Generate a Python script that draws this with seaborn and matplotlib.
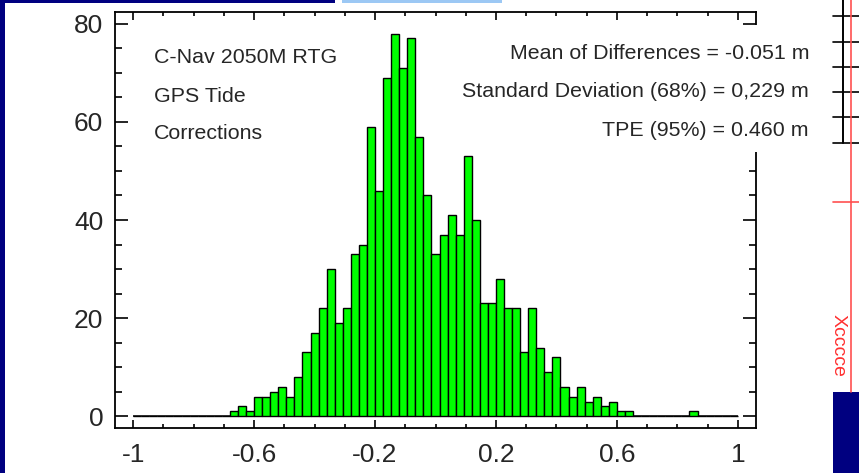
import numpy as np
import pandas as pd
import matplotlib
matplotlib.use("Agg")
import matplotlib.pyplot as plt
from matplotlib.patches import Rectangle
from matplotlib.lines import Line2D
from matplotlib.ticker import MultipleLocator, FixedLocator
import seaborn as sns

# ---- data ----
bin_start = -1.0
bin_end = 1.0
n_bins = 75
counts = [0, 0, 0, 0, 0, 0, 0, 0, 0, 0, 0, 0,
          1, 2, 1, 4, 4, 5, 6, 4, 8, 13, 17, 22, 30, 19, 22, 33, 35,
          59, 46, 69, 78, 71, 77, 57, 45, 33, 37, 41, 37, 53, 40,
          23, 23, 28, 22, 22, 13, 22, 14, 9, 12, 6, 4, 6, 3, 4, 2, 3, 1, 1,
          0, 0, 0, 0, 0, 0, 0, 1, 0, 0, 0, 0, 0]
x_major_ticks = [-1, -0.6, -0.2, 0.2, 0.6, 1]
x_tick_labels = ["-1", "-0.6", "-0.2", "0.2", "0.6", "1"]
y_major_ticks = [0, 20, 40, 60, 80]
left_notes = ["C-Nav 2050M RTG", "GPS Tide", "Corrections"]
right_notes = ["Mean of Differences = -0.051 m",
               "Standard Deviation (68%) = 0,229 m",
               "TPE (95%) = 0.460 m"]

edges = np.linspace(bin_start, bin_end, n_bins + 1)
centers = (edges[:-1] + edges[1:]) / 2
df = pd.DataFrame({"diff": centers, "count": counts})

sns.set_style("ticks")
plt.rcParams["font.family"] = ["Liberation Sans", "DejaVu Sans"]
plt.rcParams["axes.unicode_minus"] = False

W, H = 859, 473
fig = plt.figure(figsize=(W / 100, H / 100), dpi=100)
fig.patch.set_facecolor("white")
ax = fig.add_axes([115 / W, 1 - 428 / H, 641 / W, 416 / H])

ax.hlines(0, bin_start, bin_end, color="black", lw=1.1, zorder=1)
sns.histplot(data=df, x="diff", weights="count", bins=list(edges), color="#00ff00",
             edgecolor="black", linewidth=1.0, alpha=1, ax=ax)

ax.set_xlim(-1.06, 1.06)
ax.set_ylim(-2.4, 82.4)
ax.set_xlabel("")
ax.set_ylabel("")
ax.xaxis.set_major_locator(FixedLocator(x_major_ticks))
ax.set_xticklabels(x_tick_labels)
ax.xaxis.set_minor_locator(MultipleLocator(0.1))
ax.yaxis.set_major_locator(FixedLocator(y_major_ticks))
ax.yaxis.set_minor_locator(MultipleLocator(5))
for s in ax.spines.values():
    s.set_linewidth(1.3)
    s.set_color("black")
ax.tick_params(axis="both", which="both", direction="in", top=True, right=True,
               width=1.2, color="black", labelsize=19)
ax.tick_params(axis="x", which="major", length=6, pad=11)
ax.tick_params(axis="x", which="minor", length=3)
ax.tick_params(axis="y", which="major", length=9.5, pad=8.5)
ax.tick_params(axis="y", which="minor", length=5)
ax.grid(False)

# white box behind statistics (covers right spine)
fig.add_artist(Rectangle((455 / W, 1 - 152 / H), (822 - 455) / W, (152 - 25) / H,
                         transform=fig.transFigure, facecolor="white",
                         edgecolor="none", zorder=5))

for txt, yb in zip(left_notes, [63.3, 101.7, 139.3]):
    fig.text(154 / W, 1 - yb / H, txt, ha="left", va="baseline", fontsize=15.4,
             zorder=6)
for txt, yb in zip(right_notes, [59.3, 96.7, 136]):
    fig.text(809 / W, 1 - yb / H, txt, ha="right", va="baseline", fontsize=15.4,
             zorder=6)

# ---- frame decorations from the surrounding screenshot ----
navy = "#000080"
fig.add_artist(Rectangle((0, 0), 5 / W, 1, transform=fig.transFigure,
                         facecolor=navy, edgecolor="none", zorder=7))
fig.add_artist(Rectangle((0, 1 - 3 / H), 335 / W, 3 / H, transform=fig.transFigure,
                         facecolor=navy, edgecolor="none", zorder=7))
fig.add_artist(Rectangle((342 / W, 1 - 3 / H), 160 / W, 3 / H, transform=fig.transFigure,
                         facecolor="#9cc8f4", edgecolor="none", zorder=7))
fig.add_artist(Rectangle((833 / W, 0), 26 / W, (473 - 392) / H, transform=fig.transFigure,
                         facecolor=navy, edgecolor="none", zorder=7))
fig.add_artist(Line2D([842.7 / W, 842.7 / W], [1, 1 - 143 / H], transform=fig.transFigure,
                      color="black", lw=1.4, zorder=8))
for yy in [16, 42, 67, 92, 117, 143]:
    fig.add_artist(Line2D([833 / W, 1], [1 - yy / H, 1 - yy / H], transform=fig.transFigure,
                          color="black", lw=1.2, zorder=7))
fig.add_artist(Line2D([850.7 / W, 850.7 / W], [1, 1 - 392 / H], transform=fig.transFigure,
                      color="#ff5050", lw=1.2, zorder=7))
fig.add_artist(Line2D([833 / W, 1], [1 - 202 / H, 1 - 202 / H], transform=fig.transFigure,
                      color="#ff5050", lw=1.2, zorder=7))
fig.text(838 / W, 1 - 345 / H, "Xcccce", rotation=-90, color="#ff3030",
         fontsize=14, ha="center", va="center", zorder=7)

fig.savefig("out.png", dpi=100)
